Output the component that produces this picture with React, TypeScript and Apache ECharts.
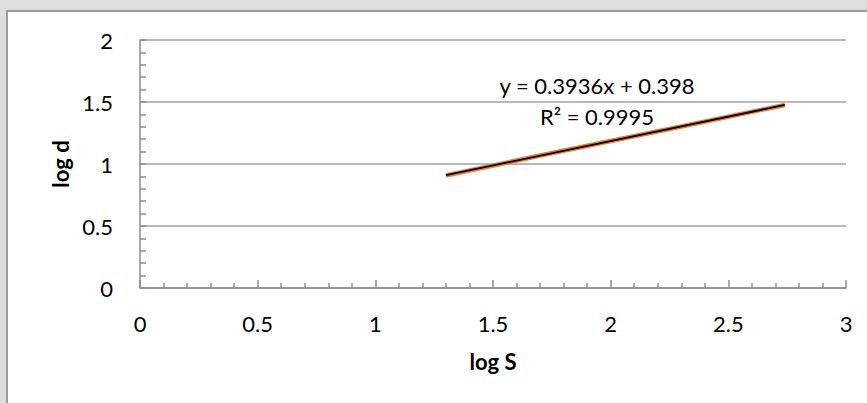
import React, { useEffect, useRef } from "react";
import * as echarts from "echarts";

// Measured points: log S against log d
const logS = [1.3, 1.7, 2.0, 2.3, 2.74];
const logD = [0.907, 1.068, 1.186, 1.303, 1.476];

// Linear trendline fitted to the points
const trendSlope = 0.3936;
const trendIntercept = 0.398;
const trendLabel = "y = 0.3936x + 0.398";
const r2Label = "R² = 0.9995";

const xTicks = { min: 0, max: 3, interval: 0.5 };
const yTicks = { min: 0, max: 2, interval: 0.5 };

const FONT = "Lato, 'Open Sans', sans-serif";

export default function App() {
  const ref = useRef<HTMLDivElement>(null);

  useEffect(() => {
    if (!ref.current) return;
    const chart = echarts.init(ref.current, null, { renderer: "svg" });

    const points = logS.map((x, i) => [x, logD[i]]);
    const xFirst = logS[0];
    const xLast = logS[logS.length - 1];
    const trend = [
      [xFirst, trendSlope * xFirst + trendIntercept],
      [xLast, trendSlope * xLast + trendIntercept],
    ];

    chart.setOption({
      animation: false,
      backgroundColor: "#dedede",
      textStyle: { fontFamily: FONT },
      graphic: [
        {
          type: "rect",
          z: -10,
          shape: { x: 7, y: 11, width: 880, height: 420 },
          style: { fill: "#ffffff", stroke: "#9c9c9c", lineWidth: 2 },
        },
        {
          type: "text",
          x: 597,
          y: 85,
          style: {
            text: trendLabel,
            fill: "#000",
            font: `22px ${FONT}`,
            align: "center",
            verticalAlign: "middle",
          },
        },
        {
          type: "text",
          x: 597,
          y: 116,
          style: {
            text: r2Label,
            fill: "#000",
            font: `22px ${FONT}`,
            align: "center",
            verticalAlign: "middle",
          },
        },
      ],
      grid: { left: 140, right: 21, top: 40, bottom: 115 },
      xAxis: {
        type: "value",
        min: xTicks.min,
        max: xTicks.max,
        interval: xTicks.interval,
        name: "log S",
        nameLocation: "middle",
        nameGap: 62,
        nameTextStyle: { fontSize: 22, fontWeight: "bold", color: "#000", fontFamily: FONT },
        axisLine: { show: true, lineStyle: { color: "#8c8c8c", width: 1.5 } },
        axisTick: { show: true, inside: true, length: 8, lineStyle: { color: "#8c8c8c", width: 1.5 } },
        minorTick: { show: true, splitNumber: 5, length: 5, lineStyle: { color: "#8c8c8c", width: 1.5 } },
        splitLine: { show: false },
        axisLabel: { fontSize: 22, color: "#000", margin: 24, fontFamily: FONT },
      },
      yAxis: {
        type: "value",
        min: yTicks.min,
        max: yTicks.max,
        interval: yTicks.interval,
        name: "log d",
        nameLocation: "middle",
        nameGap: 68,
        nameTextStyle: { fontSize: 22, fontWeight: "bold", color: "#000", fontFamily: FONT },
        axisLine: { show: true, lineStyle: { color: "#8c8c8c", width: 1.5 } },
        axisTick: { show: true, inside: true, length: 6, lineStyle: { color: "#8c8c8c", width: 1.5 } },
        minorTick: { show: true, splitNumber: 5, length: 6, lineStyle: { color: "#8c8c8c", width: 1.5 } },
        splitLine: { show: true, lineStyle: { color: "#a0a0a0", width: 1.5 } },
        axisLabel: { fontSize: 22, color: "#000", margin: 27, fontFamily: FONT },
      },
      series: [
        {
          type: "line",
          data: points,
          showSymbol: false,
          symbol: "none",
          lineStyle: { color: "#ed7d31", width: 4.5 },
          z: 2,
        },
        {
          type: "line",
          data: trend,
          showSymbol: false,
          symbol: "none",
          lineStyle: { color: "#000000", width: 1.8 },
          z: 3,
        },
      ],
    });

    return () => chart.dispose();
  }, []);

  return (
    <div
      ref={ref}
      style={{ position: "fixed", left: 0, top: 0, width: 867, height: 403 }}
    />
  );
}
